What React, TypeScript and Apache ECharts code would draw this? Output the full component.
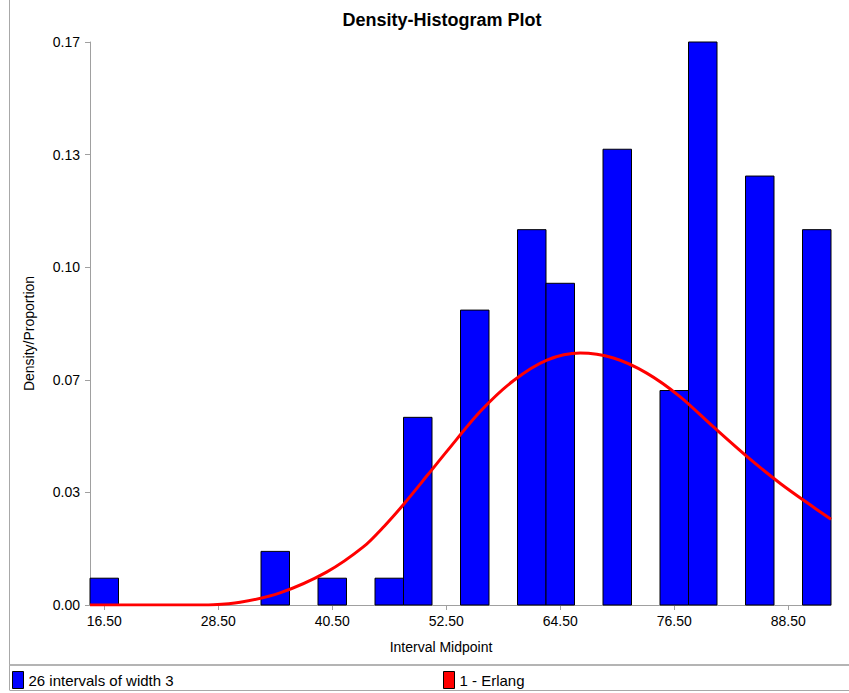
import React, { useEffect, useRef } from "react";
import * as echarts from "echarts";

// ---- data ----
const binWidth = 3;
const xMin = 15;
const xMax = 93;
// interval midpoints (only non-empty intervals) and their proportions
const binMidpoints = [16.5, 34.5, 40.5, 46.5, 49.5, 55.5, 61.5, 64.5, 70.5, 76.5, 79.5, 85.5, 91.5];
const binProportions = [0.008, 0.016, 0.008, 0.008, 0.056, 0.088, 0.112, 0.096, 0.136, 0.064, 0.168, 0.128, 0.112];

// fitted Erlang curve
const curveX = [15, 20, 25, 28, 30.8, 35.0, 39.9, 43.8, 46.0, 48.0, 50.6, 52.6, 56.1, 59.6, 63.1, 66.6, 70.1, 73.6, 77.1, 80.6, 84.2, 87.7, 91.2, 93];
const curveY = [0, 0, 0, 0.0001, 0.0008, 0.0036, 0.0098, 0.0174, 0.0236, 0.0300, 0.0390, 0.0460, 0.0578, 0.0670, 0.0731, 0.0752, 0.0737, 0.0692, 0.0622, 0.0532, 0.0442, 0.0362, 0.0291, 0.0256];

const xTickValues = [16.5, 28.5, 40.5, 52.5, 64.5, 76.5, 88.5];
const yTickValues = [0, 0.0336, 0.0672, 0.1008, 0.1344, 0.168];

const titleText = "Density-Histogram Plot";
const xAxisName = "Interval Midpoint";
const yAxisName = "Density/Proportion";
const histLegend = "26 intervals of width 3";
const curveLegend = "1 - Erlang";

const FONT = "'Liberation Sans', Arial, sans-serif";

export default function App() {
  const ref = useRef<HTMLDivElement>(null);

  useEffect(() => {
    document.body.style.margin = "0";
    if (!ref.current) return;
    const chart = echarts.init(ref.current, undefined, { renderer: "svg" });

    const barData = binMidpoints.map((m, i) => [m, binProportions[i]]);
    const lineData = curveX.map((x, i) => [x, curveY[i]]);

    chart.setOption({
      animation: false,
      backgroundColor: "#ffffff",
      textStyle: { fontFamily: FONT },
      title: {
        text: titleText,
        left: 437,
        top: 6,
        textAlign: "center",
        textStyle: { fontFamily: FONT, fontSize: 18, fontWeight: "bold", color: "#000" },
      },
      grid: { left: 90, right: 18, top: 42, bottom: 88, containLabel: false },
      xAxis: {
        type: "value",
        min: xMin,
        max: xMax,
        name: xAxisName,
        nameLocation: "middle",
        nameGap: 35,
        nameTextStyle: { fontFamily: FONT, fontSize: 14, color: "#000", padding: [0, 39, 0, 0] },
        axisLine: { show: true, lineStyle: { color: "#a0a0a0", width: 1 } },
        axisTick: { show: true, customValues: xTickValues, length: 5, lineStyle: { color: "#a0a0a0" } },
        axisLabel: {
          customValues: xTickValues,
          formatter: (v: number) => v.toFixed(2),
          fontFamily: FONT,
          fontSize: 14,
          color: "#000",
          margin: 9,
        },
        splitLine: { show: false },
      },
      yAxis: {
        type: "value",
        min: 0,
        max: yTickValues[yTickValues.length - 1],
        name: yAxisName,
        nameLocation: "middle",
        nameGap: 54,
        nameRotate: 90,
        nameTextStyle: { fontFamily: FONT, fontSize: 14, color: "#000", padding: [0, 20, 0, 0] },
        axisLine: { show: true, lineStyle: { color: "#a0a0a0", width: 1 } },
        axisTick: { show: true, customValues: yTickValues, length: 5, lineStyle: { color: "#a0a0a0" } },
        axisLabel: {
          customValues: yTickValues,
          formatter: (v: number) => v.toFixed(2),
          fontFamily: FONT,
          fontSize: 14,
          color: "#000",
          margin: 10,
        },
        splitLine: { show: false },
      },
      legend: [
        {
          data: [{ name: histLegend, itemStyle: { color: "#0000ff", borderColor: "#000", borderWidth: 1 } }],
          left: 12,
          top: 671,
          icon: "rect",
          itemWidth: 11,
          itemHeight: 17,
          padding: 0,
          textStyle: { fontFamily: FONT, fontSize: 15, color: "#000" },
          selectedMode: false,
        },
        {
          data: [{ name: curveLegend, itemStyle: { color: "#ff0000", borderColor: "#000", borderWidth: 1 } }],
          left: 443,
          top: 671,
          icon: "rect",
          itemWidth: 11,
          itemHeight: 17,
          padding: 0,
          textStyle: { fontFamily: FONT, fontSize: 15, color: "#000" },
          selectedMode: false,
        },
      ],
      graphic: [
        { type: "line", shape: { x1: 9.5, y1: 0, x2: 9.5, y2: 690 }, style: { stroke: "#a8a8a8", lineWidth: 1 }, silent: true },
        { type: "line", shape: { x1: 9.5, y1: 665, x2: 849, y2: 665 }, style: { stroke: "#b4b4b4", lineWidth: 2 }, silent: true },
        { type: "line", shape: { x1: 9.5, y1: 690.5, x2: 849, y2: 690.5 }, style: { stroke: "#a8a8a8", lineWidth: 1 }, silent: true },
      ],
      series: [
        {
          name: histLegend,
          type: "custom",
          data: barData,
          encode: { x: 0, y: 1 },
          itemStyle: { color: "#0000ff" },
          renderItem: (_params: any, api: any) => {
            const mid = api.value(0);
            const val = api.value(1);
            const p0 = api.coord([mid - binWidth / 2, val]);
            const p1 = api.coord([mid + binWidth / 2, 0]);
            return {
              type: "rect",
              shape: { x: p0[0], y: p0[1], width: p1[0] - p0[0], height: p1[1] - p0[1] },
              style: { fill: "#0000ff", stroke: "#000000", lineWidth: 1 },
            };
          },
          z: 2,
        },
        {
          name: curveLegend,
          type: "line",
          data: lineData,
          smooth: 0.3,
          showSymbol: false,
          symbol: "none",
          lineStyle: { color: "#ff0000", width: 3 },
          itemStyle: { color: "#ff0000" },
          z: 3,
        },
      ],
    });

    return () => chart.dispose();
  }, []);

  return <div ref={ref} style={{ width: 849, height: 693 }} />;
}
